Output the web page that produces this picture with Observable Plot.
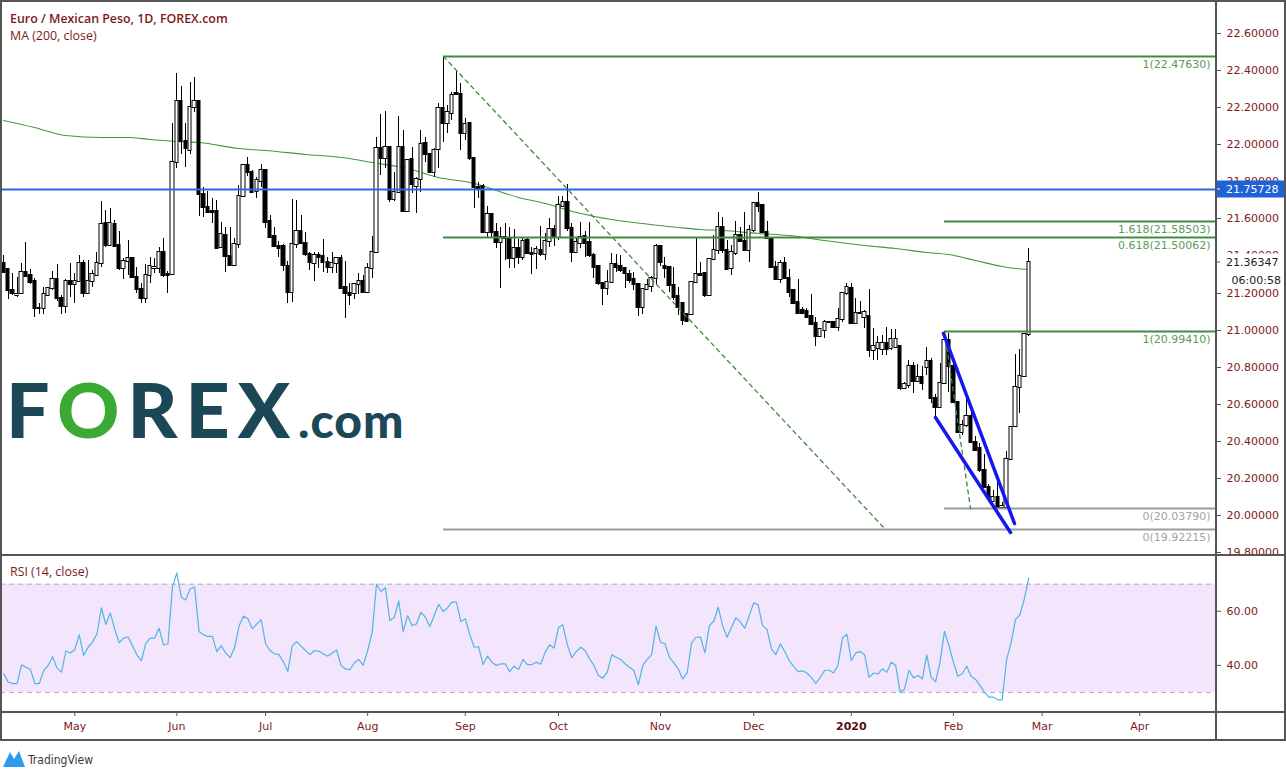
<!DOCTYPE html>
<html>
<head>
<meta charset="utf-8">
<script src="https://cdn.jsdelivr.net/npm/d3@7"></script>
<script src="https://cdn.jsdelivr.net/npm/@observablehq/plot@0.6"></script>
<style>
  html,body{margin:0;padding:0;background:#fff;}
  #wrap{position:relative;width:1286px;height:777px;overflow:hidden;}
  #wrap > svg{position:absolute;left:0;}
</style>
</head>
<body>
<div id="wrap"></div>
<script>
// ---------------- DATA ----------------
const firstBarDate = [2019, 3, 9]; // Tue 9 Apr 2019 (daily bars, weekdays)
const open = [21.358,21.325,21.214,21.189,21.196,21.309,21.295,21.262,21.115,21.115,
21.187,21.223,21.271,21.169,21.129,21.264,21.244,21.262,21.361,21.199,
21.261,21.295,21.358,21.573,21.457,21.570,21.457,21.331,21.372,21.385,
21.286,21.217,21.169,21.295,21.334,21.334,21.419,21.298,21.298,21.902,
22.235,22.018,21.969,22.199,22.235,21.730,21.663,21.642,21.642,21.444,
21.510,21.399,21.349,21.460,21.721,21.888,21.852,21.748,21.804,21.861,
21.586,21.505,21.453,21.451,21.343,21.205,21.460,21.532,21.466,21.406,
21.358,21.403,21.397,21.363,21.336,21.358,21.386,21.228,21.196,21.196,
21.244,21.264,21.205,21.331,21.417,21.978,21.924,21.983,21.703,21.741,
21.983,21.642,21.920,21.777,21.811,22.005,21.947,21.852,21.973,22.194,
22.113,22.167,22.278,22.271,22.062,22.113,21.924,21.771,21.775,21.525,
21.624,21.525,21.475,21.492,21.492,21.385,21.439,21.390,21.484,21.412,
21.412,21.430,21.406,21.478,21.541,21.501,21.669,21.690,21.546,21.421,
21.469,21.505,21.475,21.403,21.343,21.250,21.223,21.255,21.352,21.343,
21.331,21.300,21.273,21.244,21.120,21.217,21.235,21.277,21.451,21.343,
21.340,21.241,21.181,21.142,21.084,21.084,21.259,21.300,21.307,21.187,
21.379,21.430,21.552,21.430,21.331,21.412,21.510,21.480,21.430,21.537,
21.685,21.672,21.525,21.492,21.336,21.271,21.358,21.280,21.214,21.147,
21.106,21.102,21.074,21.034,20.967,20.998,21.043,21.043,21.016,21.056,
21.196,21.223,21.038,21.092,21.066,21.074,20.890,20.899,20.896,20.926,
20.899,20.908,20.914,20.687,20.701,20.804,20.725,20.743,20.800,20.831,
20.630,20.585,20.710,20.944,20.804,20.612,20.450,20.486,20.534,20.392,
20.360,20.243,20.153,20.078,20.099,20.045,20.045,20.300,20.480,20.689,
20.752,20.976];
const high = [21.403,21.329,21.307,21.286,21.358,21.475,21.329,21.277,21.142,21.228,
21.232,21.318,21.354,21.187,21.271,21.358,21.304,21.403,21.376,21.376,
21.322,21.421,21.692,21.645,21.654,21.591,21.534,21.385,21.484,21.394,
21.340,21.250,21.354,21.394,21.385,21.448,21.493,21.316,22.113,22.386,
22.314,22.113,22.334,22.361,22.239,21.771,21.748,21.708,21.699,21.579,
21.555,21.552,21.492,21.780,21.893,21.929,21.861,21.822,21.892,21.861,
21.618,21.552,21.478,21.460,21.370,21.705,21.699,21.618,21.528,21.421,
21.421,21.417,21.489,21.394,21.417,21.394,21.403,21.370,21.250,21.253,
21.307,21.295,21.358,21.505,22.041,22.163,22.179,21.987,21.852,22.152,
22.077,21.915,21.983,21.825,22.077,22.037,21.955,21.978,22.224,22.4763,
22.212,22.284,22.397,22.329,22.140,22.113,21.930,21.798,21.786,21.667,
21.627,21.573,21.555,21.577,21.555,21.541,21.487,21.501,21.493,21.444,
21.451,21.561,21.519,21.600,21.564,21.721,21.721,21.786,21.573,21.501,
21.582,21.532,21.579,21.412,21.348,21.253,21.322,21.412,21.408,21.403,
21.336,21.322,21.313,21.250,21.223,21.271,21.289,21.462,21.457,21.394,
21.343,21.336,21.232,21.142,21.088,21.259,21.501,21.367,21.307,21.385,
21.510,21.633,21.609,21.483,21.456,21.588,21.555,21.633,21.564,21.690,
21.744,21.678,21.588,21.498,21.372,21.376,21.394,21.325,21.214,21.271,
21.120,21.115,21.190,21.070,21.003,21.052,21.048,21.048,21.115,21.205,
21.250,21.250,21.169,21.156,21.106,21.219,21.007,20.966,20.971,21.016,
21.002,21.002,20.917,20.719,20.836,20.827,20.815,20.804,20.905,20.845,
20.653,20.818,20.994,20.980,20.818,20.617,20.513,20.647,20.585,20.428,
20.387,20.329,20.167,20.135,20.189,20.072,20.347,20.477,20.869,20.894,
20.980,21.439];
const low = [21.304,21.164,21.187,21.178,21.192,21.286,21.244,21.070,21.084,21.084,
21.182,21.214,21.155,21.084,21.088,21.178,21.142,21.259,21.178,21.199,
21.232,21.289,21.340,21.448,21.451,21.448,21.322,21.271,21.293,21.282,
21.196,21.142,21.142,21.253,21.304,21.304,21.282,21.196,21.293,21.870,
21.946,21.879,21.947,22.176,21.615,21.606,21.633,21.573,21.439,21.439,
21.309,21.345,21.345,21.439,21.714,21.831,21.739,21.708,21.771,21.550,
21.496,21.448,21.390,21.318,21.146,21.151,21.439,21.460,21.399,21.322,
21.264,21.331,21.313,21.304,21.304,21.304,21.219,21.061,21.133,21.164,
21.192,21.199,21.196,21.277,21.412,21.834,21.870,21.690,21.696,21.735,
21.636,21.640,21.735,21.627,21.744,21.906,21.847,21.822,21.870,22.014,
22.062,22.131,22.269,21.969,22.023,21.915,21.654,21.708,21.520,21.501,
21.501,21.439,21.223,21.376,21.331,21.331,21.352,21.376,21.406,21.298,
21.325,21.397,21.376,21.444,21.451,21.484,21.663,21.532,21.363,21.412,
21.439,21.394,21.394,21.277,21.241,21.133,21.187,21.253,21.309,21.313,
21.223,21.253,21.214,21.074,21.084,21.214,21.205,21.246,21.343,21.277,
21.205,21.160,21.079,21.025,21.043,21.079,21.259,21.290,21.178,21.181,
21.376,21.408,21.412,21.322,21.295,21.403,21.474,21.424,21.367,21.528,
21.636,21.519,21.487,21.336,21.268,21.250,21.271,21.178,21.138,21.088,
21.088,21.066,21.025,20.914,20.962,20.953,21.038,21.011,20.994,21.043,
21.187,21.034,21.034,21.084,21.007,20.854,20.836,20.836,20.863,20.863,
20.890,20.899,20.674,20.678,20.683,20.656,20.719,20.674,20.755,20.606,
20.531,20.581,20.705,20.665,20.606,20.441,20.432,20.477,20.387,20.347,
20.234,20.144,20.090,20.072,20.042,20.038,20.042,20.297,20.477,20.549,
20.746,20.966];
const close = [21.313,21.214,21.196,21.192,21.313,21.291,21.259,21.115,21.119,21.192,
21.223,21.271,21.169,21.129,21.264,21.244,21.262,21.361,21.196,21.264,
21.298,21.358,21.570,21.457,21.573,21.453,21.331,21.372,21.385,21.286,
21.217,21.169,21.295,21.343,21.340,21.419,21.293,21.293,21.906,22.233,
22.018,21.978,22.199,22.235,21.730,21.663,21.636,21.636,21.442,21.516,
21.399,21.349,21.460,21.721,21.888,21.852,21.744,21.807,21.861,21.582,
21.501,21.453,21.442,21.349,21.205,21.462,21.532,21.466,21.406,21.363,
21.403,21.394,21.367,21.340,21.361,21.386,21.226,21.196,21.187,21.244,
21.264,21.205,21.331,21.417,21.978,21.924,21.983,21.703,21.741,21.987,
21.642,21.915,21.784,21.811,21.999,21.947,21.852,21.969,22.194,22.113,
22.176,22.266,22.271,22.062,22.107,21.924,21.771,21.762,21.525,21.624,
21.525,21.475,21.498,21.501,21.385,21.439,21.394,21.480,21.412,21.408,
21.433,21.406,21.478,21.541,21.501,21.672,21.690,21.550,21.421,21.471,
21.501,21.469,21.403,21.340,21.250,21.223,21.255,21.352,21.340,21.322,
21.304,21.268,21.244,21.120,21.217,21.241,21.277,21.451,21.367,21.331,
21.241,21.178,21.124,21.052,21.048,21.259,21.298,21.295,21.187,21.379,
21.430,21.552,21.430,21.325,21.421,21.510,21.480,21.430,21.537,21.685,
21.669,21.525,21.492,21.340,21.271,21.361,21.280,21.205,21.145,21.092,
21.092,21.070,21.030,20.967,21.002,21.043,21.041,21.016,21.056,21.196,
21.228,21.038,21.088,21.088,21.097,20.890,20.914,20.926,20.926,20.894,
20.948,20.950,20.683,20.705,20.804,20.725,20.743,20.710,20.831,20.630,
20.585,20.710,20.944,20.804,20.612,20.450,20.486,20.534,20.392,20.351,
20.243,20.153,20.099,20.099,20.045,20.048,20.300,20.477,20.689,20.752,
20.976,21.363];
const rsi14 = [36.9,33.8,33.3,33.3,40.2,39.3,38.5,33.3,33.3,38.1,
40.0,43.2,39.0,37.5,45.3,44.6,45.9,51.3,43.7,46.7,
48.6,51.7,61.3,55.1,59.4,53.3,48.3,50.1,50.5,47.3,
43.9,41.7,48.1,50.1,50.1,53.7,47.6,48.0,68.9,74.2,
65.2,64.2,68.3,68.9,52.5,51.3,50.7,50.7,45.1,47.3,
44.6,42.9,46.4,54.5,58.2,57.2,53.5,55.3,56.9,48.0,
45.5,44.3,44.0,41.4,37.7,47.1,48.8,47.1,45.5,44.0,
45.5,45.2,44.3,43.4,44.6,45.7,40.0,38.7,38.4,40.9,
42.2,40.0,45.5,52.0,70.0,67.3,68.7,56.6,57.7,63.8,
52.5,58.4,54.7,55.3,59.7,57.8,54.4,58.4,62.6,59.9,
61.3,63.4,63.4,56.2,57.2,51.5,46.7,46.9,40.3,43.4,
41.2,40.0,40.6,40.6,37.7,39.7,38.5,42.2,40.3,40.3,
41.2,40.4,44.9,47.6,46.4,54.0,55.0,47.6,42.9,45.1,
46.7,45.5,42.4,40.0,36.3,35.3,37.5,43.9,43.0,42.2,
40.6,39.3,38.1,32.8,40.0,42.2,44.0,54.5,48.6,48.0,
43.0,40.9,38.7,35.0,37.2,48.3,50.4,50.5,44.6,54.7,
56.3,61.5,54.7,50.4,54.1,57.6,56.0,53.7,58.4,63.1,
62.4,54.7,53.3,46.1,44.0,48.0,45.1,41.8,39.6,37.7,
38.0,37.2,35.5,33.4,35.6,38.2,38.2,37.2,40.0,50.1,
51.5,41.8,44.6,45.1,43.9,35.6,37.2,36.9,38.7,37.5,
41.2,40.0,30.1,31.3,38.2,35.4,36.3,35.0,43.9,35.6,
34.0,41.2,52.6,47.3,41.2,36.0,36.9,39.7,36.0,34.8,
32.6,30.1,28.3,28.3,27.3,27.3,42.2,48.3,57.0,58.7,
64.6,72.3];
// MA(200) read at these bars
const maBar = [0,7,14,22,28,33,39,44,53,59,68,76,83,91,98,106,111,116,122,129,137,144,152,157,162,170,177,185,194,201,208,213,219,225,228,231];
const maValue = [22.131,22.091,22.050,22.037,22.037,22.026,22.018,22.014,21.978,21.969,21.946,21.929,21.906,21.870,21.825,21.790,21.755,21.715,21.681,21.636,21.595,21.577,21.555,21.541,21.537,21.523,21.510,21.483,21.454,21.439,21.421,21.408,21.376,21.343,21.331,21.325];

const priceTicks = [19.8,20.0,20.2,20.4,20.6,20.8,21.0,21.2,21.4,21.6,21.8,22.0,22.2,22.4,22.6];
const rsiTicks = [40, 60];
const rsiBands = [30, 70];
const horizontalLine = 21.75728;
const lastPrice = 21.36347;
const countdown = "06:00:58";
const monthNames = ["Jan","Feb","Mar","Apr","May","Jun","Jul","Aug","Sep","Oct","Nov","Dec"];

// Fibonacci drawings: anchor points [bar, price] and levels [ratio, price]
const fibAFrom = [99, 22.4763], fibATo = [198.7, 19.92215];
const fibALevels = [[1, 22.4763], [0.618, 21.50062], [0, 19.92215]];
const fibBFrom = [212, 20.9941], fibBTo = [217.9, 20.0379];
const fibBLevels = [[1.618, 21.58503], [1, 20.9941], [0, 20.0379]];
// falling wedge lines [bar, price]
const wedgeUpper = [[211.85, 20.9835], [227.8, 19.9555]];
const wedgeLower = [[210, 20.53], [226.9, 19.910]];

// ---------------- BUILD ----------------
const W = 1286, AXIS_W = 70;
const xDomain = [-0.744, 273.3];

const dates = [];
for (let d = new Date(Date.UTC(...firstBarDate)); dates.length < 280; d.setUTCDate(d.getUTCDate() + 1)) {
  const wd = d.getUTCDay();
  if (wd !== 0 && wd !== 6) dates.push(new Date(d));
}
const monthTicks = [], yearTicks = [];
for (let i = 1; i < dates.length && i <= xDomain[1]; i++) {
  if (dates[i].getUTCMonth() !== dates[i - 1].getUTCMonth()) {
    (dates[i].getUTCMonth() === 0 ? yearTicks : monthTicks).push(i);
  }
}
const tickLabel = i => dates[i].getUTCMonth() === 0 ? String(dates[i].getUTCFullYear()) : monthNames[dates[i].getUTCMonth()];

const bars = open.map((o, i) => ({i, o, h: high[i], l: low[i], c: close[i]}));
const upBars = bars.filter(b => b.c >= b.o);
const downBars = bars.filter(b => b.c < b.o);
const ma = maBar.map((b, k) => ({i: b, v: maValue[k]}));
const pt = a => ({i: a[0], v: a[1]});
const fibLevelsA = fibALevels.map(([r, v]) => ({r, v, start: fibAFrom[0], label: `${r}(${v.toFixed(5)})`}));
const fibLevelsB = fibBLevels.map(([r, v]) => ({r, v, start: fibBFrom[0], label: `${r}(${v.toFixed(5)})`}));
const allLevels = [...fibLevelsA, ...fibLevelsB];
const greenLevels = allLevels.filter(d => d.r !== 0);
const grayLevels = allLevels.filter(d => d.r === 0);

const AX_FONT = "DejaVu Sans";
const MAROON = "#7c1a1a";
const HW = 0.38; // candle body half width in bars

const price = Plot.plot({
  width: W, height: 555,
  marginLeft: 0, marginRight: AXIS_W, marginTop: 0, marginBottom: 0,
  x: {domain: xDomain, axis: null, round: true},
  y: {domain: [19.7845, 22.778], axis: null, round: true},
  style: {fontFamily: AX_FONT, fontSize: "11px", background: "transparent", overflow: "visible"},
  marks: [
    Plot.axisY(priceTicks, {anchor: "right", label: null, tickSize: 4, tickPadding: 6, tickFormat: d => d.toFixed(5), fill: MAROON, stroke: "#555", fontSize: 11}),
    Plot.line(ma, {x: "i", y: "v", stroke: "#43993f", strokeWidth: 1.1, curve: "monotone-x"}),
    Plot.ruleX(bars, {x: "i", y1: "l", y2: "h", stroke: "#000", strokeWidth: 1}),
    Plot.rect(upBars, {x1: d => d.i - HW, x2: d => d.i + HW, y1: "o", y2: "c", fill: "#fff", stroke: "#000", strokeWidth: 1, insetTop: -0.5, insetBottom: -0.5}),
    Plot.rect(downBars, {x1: d => d.i - HW, x2: d => d.i + HW, y1: "o", y2: "c", fill: "#000", stroke: "#000", strokeWidth: 1, insetTop: -0.5, insetBottom: -0.5}),
    Plot.ruleY([horizontalLine], {stroke: "#2a6ae0", strokeWidth: 2.2}),
    Plot.ruleY(greenLevels, {y: "v", x1: d => d.start, x2: () => xDomain[1], stroke: "#43893f", strokeWidth: 2}),
    Plot.ruleY(grayLevels, {y: "v", x1: d => d.start, x2: () => xDomain[1], stroke: "#9c9c9c", strokeWidth: 2}),
    Plot.line([pt(fibAFrom), pt(fibATo)], {x: "i", y: "v", stroke: "#3f8a3f", strokeWidth: 1.3, strokeDasharray: "4,4"}),
    Plot.line([pt(fibBFrom), pt(fibBTo)], {x: "i", y: "v", stroke: "#3f8a3f", strokeWidth: 1.3, strokeDasharray: "4,4"}),
    Plot.line(wedgeUpper.map(pt), {x: "i", y: "v", stroke: "#1616f0", strokeWidth: 3.5}),
    Plot.line(wedgeLower.map(pt), {x: "i", y: "v", stroke: "#1616f0", strokeWidth: 3.5}),
    Plot.text(greenLevels, {x: () => xDomain[1], y: "v", text: "label", textAnchor: "end", dx: -6, dy: 8, fill: "#5a9a58", fontSize: 11}),
    Plot.text(grayLevels, {x: () => xDomain[1], y: "v", text: "label", textAnchor: "end", dx: -6, dy: 8, fill: "#a3a3a3", fontSize: 11})
  ]
});

const rsiPlot = Plot.plot({
  width: W, height: 186,
  marginLeft: 0, marginRight: AXIS_W, marginTop: 0, marginBottom: 29,
  x: {domain: xDomain, axis: null},
  y: {domain: [22.6, 80.6], axis: null},
  style: {fontFamily: AX_FONT, fontSize: "11px", background: "#fff"},
  marks: [
    Plot.rect([rsiBands], {x1: () => xDomain[0], x2: () => xDomain[1], y1: d => d[0], y2: d => d[1], fill: "#f3e5fc"}),
    Plot.ruleY(rsiBands, {stroke: "#bba9c4", strokeDasharray: "5,4", strokeWidth: 1}),
    Plot.line(rsi14.map((v, i) => ({i, v})), {x: "i", y: "v", stroke: "#52b4e4", strokeWidth: 1.2}),
    Plot.axisY(rsiTicks, {anchor: "right", label: null, tickSize: 4, tickPadding: 6, tickFormat: d => d.toFixed(2), fill: MAROON, stroke: "#555", fontSize: 11}),
    Plot.axisX(monthTicks, {anchor: "bottom", label: null, tickSize: 4, tickPadding: 6, tickFormat: tickLabel, fill: MAROON, stroke: "#555", fontSize: 11}),
    Plot.axisX(yearTicks, {anchor: "bottom", label: null, tickSize: 4, tickPadding: 6, tickFormat: tickLabel, fill: "#5a0e0e", stroke: "#555", fontSize: 11, fontWeight: "bold"})
  ]
});

const wrap = document.getElementById("wrap");
price.style.top = "0px";
rsiPlot.style.top = "555px";
wrap.appendChild(price);
wrap.appendChild(rsiPlot);

const yP = price.scale("y");
const yBlue = yP.apply(horizontalLine);
const yLast = yP.apply(lastPrice);

const ov = document.createElementNS("http://www.w3.org/2000/svg", "svg");
ov.setAttribute("width", W); ov.setAttribute("height", 777);
ov.style.top = "0px";
ov.innerHTML = `
 <g font-family="Open Sans" fill="${MAROON}">
  <text x="10" y="23" font-size="12.4" font-weight="600">Euro / Mexican Peso, 1D, FOREX.com</text>
  <text x="10" y="39.5" font-size="12.4">MA (200, close)</text>
  <text x="10" y="576" font-size="12.4">RSI (14, close)</text>
 </g>
 <rect x="1217" y="${yBlue - 8.5}" width="69" height="17" fill="#1e62d6"/>
 <line x1="1216" x2="1220" y1="${yBlue}" y2="${yBlue}" stroke="#fff"/>
 <text x="1226" y="${yBlue + 4}" font-family="${AX_FONT}" font-size="11" fill="#fff">${horizontalLine.toFixed(5)}</text>
 <rect x="1217" y="${yLast - 8.5}" width="69" height="34" fill="#fff"/>
 <line x1="1216" x2="1220" y1="${yLast}" y2="${yLast}" stroke="#555"/>
 <text x="1226" y="${yLast + 4}" font-family="${AX_FONT}" font-size="11" fill="#222">${lastPrice.toFixed(5)}</text>
 <text x="1281" y="${yLast + 22}" text-anchor="end" font-family="${AX_FONT}" font-size="11" fill="#222">${countdown}</text>
 <g stroke="#555" stroke-width="2" fill="none">
  <rect x="1" y="1" width="1284" height="739"/>
  <line x1="0" x2="${W}" y1="555" y2="555"/>
  <line x1="0" x2="${W}" y1="712" y2="712"/>
  <line x1="1216" x2="1216" y1="0" y2="741"/>
 </g>
 <text x="6" y="438" font-family="Lato" font-weight="900" font-size="77" fill="#1b4757" letter-spacing="8">F<tspan fill="#3aaa35">O</tspan>REX<tspan font-size="48" letter-spacing="1">.com</tspan></text>
 <path d="M3,767 L10,752 L14,759 L19,751 L25,767 Z" fill="#2d9cf0"/>
 <text x="28" y="764" font-family="DejaVu Sans Condensed, Liberation Sans Narrow, DejaVu Sans" font-stretch="condensed" font-size="12" fill="#3a3a3a">TradingView</text>
`;
wrap.appendChild(ov);
</script>
</body>
</html>
